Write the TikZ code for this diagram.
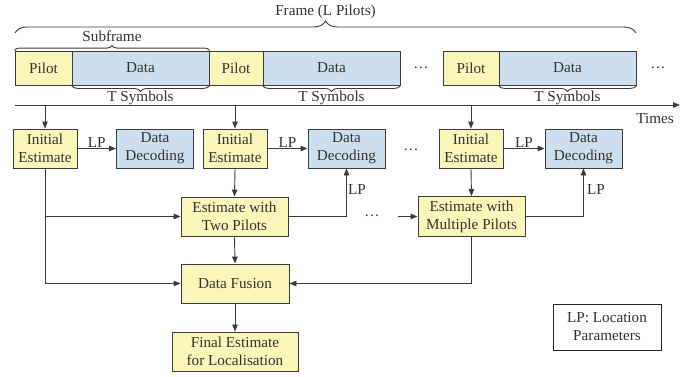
\documentclass[tikz,border=0pt]{standalone}
\usepackage{fontspec}
\setmainfont{LiberationSerif}[Extension=.ttf, UprightFont=*-Regular, BoldFont=*-Bold, ItalicFont=*-Italic, BoldItalicFont=*-BoldItalic]
\usetikzlibrary{arrows.meta,decorations.pathreplacing}
\definecolor{pilotyellow}{RGB}{250,245,185}
\definecolor{datablue}{RGB}{205,222,238}
\definecolor{linegray}{RGB}{60,60,60}
\begin{document}
\begin{tikzpicture}[x=1pt,y=-1pt,
  every node/.style={font=\rmfamily\fontsize{15.2}{18}\selectfont, text=black!80},
  box/.style={draw=linegray, line width=0.9pt, inner sep=0pt, align=center},
  ybox/.style={box, fill=pilotyellow},
  bbox/.style={box, fill=datablue},
  arr/.style={draw=linegray, line width=0.9pt, -{Triangle[length=7pt,width=5.5pt]}},
  ln/.style={draw=linegray, line width=0.9pt},
  brc/.style={draw=linegray, line width=0.9pt, decorate, decoration={brace, amplitude=#1}},
  lbl/.style={inner sep=1pt}
]
\useasboundingbox (0,0) rectangle (699,376);

% frame row
\node[ybox, minimum width=57pt, minimum height=34pt] (p1) at (43.5,68) {Pilot};
\node[bbox, minimum width=137pt, minimum height=34pt] (d1) at (140.5,68) {Data};
\node[ybox, minimum width=54pt, minimum height=34pt] (p2) at (236,68) {Pilot};
\node[bbox, minimum width=137pt, minimum height=34pt] (d2) at (331.5,68) {Data};
\node[lbl] (dots1) at (421,68) {\dots};
\node[ybox, minimum width=56pt, minimum height=34pt] (p3) at (471,68) {Pilot};
\node[bbox, minimum width=137pt, minimum height=34pt] (d3) at (567.5,68) {Data};
\node[lbl] (dots2) at (658,68) {\dots};

% braces
\draw[brc=12pt] (15,33) -- (636,33);
\node[lbl] (framelbl) at (325.5,12) {Frame (L Pilots)};
\draw[brc=5pt] (p1.north west) -- (d1.north east);
\node[lbl] (sublbl) at (112,36) {Subframe};
\draw[brc=6pt] (d1.south east) -- (d1.south west);
\draw[brc=6pt] (d2.south east) -- (d2.south west);
\draw[brc=6pt] (d3.south east) -- (d3.south west);
\node[lbl] (t1) at (140.5,98) {T Symbols};
\node[lbl] (t2) at (331.5,98) {T Symbols};
\node[lbl] (t3) at (567.5,98) {T Symbols};

% time axis
\coordinate (axs) at (15,105);
\coordinate (axe) at (680,105);
\draw[arr] (axs) -- (axe);
\node[lbl] (times) at (655,119) {Times};

% second row
\node[ybox, minimum width=64pt, minimum height=39pt] (ie1) at (45,148.5) {Initial\\Estimate};
\node[bbox, minimum width=77pt, minimum height=39pt] (dd1) at (155,148.5) {Data\\Decoding};
\node[ybox, minimum width=64pt, minimum height=39pt] (ie2) at (235,148.5) {Initial\\Estimate};
\node[bbox, minimum width=77pt, minimum height=39pt] (dd2) at (346.5,148.5) {Data\\Decoding};
\node[lbl] (dots3) at (411,150) {\dots};
\node[ybox, minimum width=64pt, minimum height=39pt] (ie3) at (471,148.5) {Initial\\Estimate};
\node[bbox, minimum width=77pt, minimum height=39pt] (dd3) at (583.5,148.5) {Data\\Decoding};

\coordinate (a1) at (45,105);
\coordinate (a2) at (235,105);
\coordinate (a3) at (471,105);
\draw[arr] (a1) -- (ie1.north);
\draw[arr] (a2) -- (ie2.north);
\draw[arr] (a3) -- (ie3.north);

\draw[arr] (ie1.east) -- node[lbl, above] {LP} (dd1.west);
\draw[arr] (ie2.east) -- node[lbl, above] {LP} (dd2.west);
\draw[arr] (ie3.east) -- node[lbl, above] {LP} (dd3.west);

% third row
\node[ybox, minimum width=107pt, minimum height=39pt] (e2p) at (234.5,216.5) {Estimate with\\Two Pilots};
\node[ybox, minimum width=107pt, minimum height=40pt] (emp) at (471.5,216.5) {Estimate with\\Multiple Pilots};
\node[lbl] (dots4) at (372,216) {\dots};
\coordinate (din) at (398,216.5);
\draw[arr] (din) -- (emp.west);

\draw[arr] (ie2.south) -- (e2p.north);
\draw[arr] (ie3.south) -- (emp.north);
\draw[arr] (e2p.east) -| (dd2.south);
\draw[arr] (emp.east) -| (dd3.south);
\node[lbl] (lp4) at (357,190) {LP};
\node[lbl] (lp5) at (596,190) {LP};

% fusion
\node[ybox, minimum width=108pt, minimum height=39pt] (df) at (235,283.5) {Data Fusion};
\node[ybox, minimum width=126pt, minimum height=39pt] (fe) at (235,351.5) {Final Estimate\\for Localisation};
\draw[arr] (ie1.south) |- (e2p.west);
\draw[arr] (ie1.south) |- (df.west);
\draw[arr] (e2p.south) -- (df.north);
\draw[arr] (emp.south) |- (df.east);
\draw[arr] (df.south) -- (fe.north);

% legend
\node[box, draw=black!85, minimum width=108pt, minimum height=46pt] (leg) at (607,327) {LP: Location\\Parameters};
\end{tikzpicture}
\end{document}
